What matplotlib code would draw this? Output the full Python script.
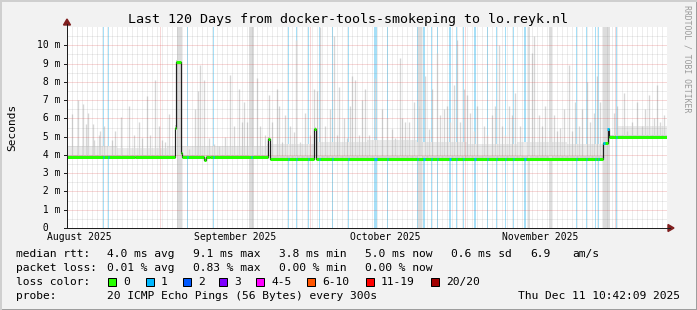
import matplotlib
matplotlib.use("Agg")
import matplotlib.pyplot as plt
from matplotlib.lines import Line2D
from matplotlib.patches import Rectangle, Polygon
import numpy as np

W, H = 697, 310
MONO = "DejaVu Sans Mono"

# --- chart data (x in days since start of the 120 day window, y in ms) ---
title = "Last 120 Days from docker-tools-smokeping to lo.reyk.nl"
month_labels = ["August 2025", "September 2025", "October 2025", "November 2025"]
month_label_day = [2.55, 33.55, 63.55, 94.55]
month_start_day = [18.55, 48.55, 79.55, 109.55]
ytick_vals = list(range(11))

# median rtt as a step function
median_day = [0, 13.5, 21.5, 21.7, 22.7, 23.0, 27.3, 27.8, 28.5, 40.2, 40.6,
              49.4, 49.7, 107.1, 108.1, 108.4]
median_ms = [3.87, 3.90, 5.5, 9.1, 4.1, 3.86, 3.72, 3.86, 3.89, 4.85, 3.80,
             5.4, 3.80, 4.65, 5.4, 4.98]

# smoke spikes (tallest ping of a time slot)
spike_day = [0.9, 2.1, 3.1, 3.8, 4.1, 5.1, 5.4, 6.3, 6.6, 7.3, 8.9, 9.6, 10.8,
             12.3, 13.3, 14.3, 14.9, 15.9, 16.6, 17.6, 18.3, 18.9, 19.6, 20.4,
             24.3, 25.6, 26.1, 26.6, 27.3, 28.3, 29.3, 30.3, 31.6, 32.6, 33.3,
             34.3, 34.9, 35.3, 36.0, 38.0, 38.6, 39.6, 40.3, 40.9, 41.9, 42.3,
             42.9, 43.6, 44.6, 45.3, 45.8, 46.6, 47.6, 48.6, 49.3, 49.9, 50.6,
             51.6, 52.6, 53.3, 53.9, 54.3, 55.3, 55.9, 56.6, 56.9, 57.6, 58.3,
             58.9, 59.6, 60.3, 61.6, 62.9, 63.9, 64.9, 65.6, 66.5, 66.9, 67.6,
             68.3, 69.3, 70.3, 71.6, 72.3, 72.9, 73.9, 74.6, 75.3, 75.9, 76.6,
             77.3, 77.9, 78.6, 79.3, 79.9, 80.6, 81.3, 81.9, 83.3, 83.9, 84.9,
             85.6, 86.3, 86.9, 87.6, 88.3, 88.9, 89.6, 90.6, 92.9, 93.3, 94.3,
             94.9, 95.6, 97.3, 97.9, 98.6, 99.3, 100.3, 100.9, 101.6, 102.3,
             103.0, 103.9, 104.6, 105.3, 106.0, 106.6, 109.3, 109.9, 111.3,
             111.9, 112.9, 113.9, 114.9, 115.6, 116.3, 117.3, 117.9, 118.6, 119.3]
spike_top = [6.25, 7.0, 6.8, 5.7, 6.3, 5.7, 4.8, 5.1, 5.3, 5.6, 4.8, 5.3, 6.1,
             6.7, 5.1, 5.8, 4.9, 7.2, 5.1, 8.1, 5.6, 4.8, 4.7, 6.25,
             4.35, 6.5, 7.5, 8.9, 8.1, 4.9, 4.6, 4.5, 5.0, 8.4, 5.6,
             7.6, 5.8, 6.9, 5.8, 8.2, 5.6, 5.1, 7.3, 5.8, 7.6, 6.7,
             4.7, 6.2, 5.6, 5.25, 10.3, 4.7, 6.3, 5.1, 7.6, 7.5, 11.0,
             5.6, 6.5, 10.5, 5.1, 7.7, 6.0, 4.9, 6.7, 8.3, 8.1, 5.1,
             7.0, 7.6, 5.1, 8.2, 6.5, 6.0, 5.4, 4.9, 9.3, 6.0, 5.8,
             5.8, 6.9, 6.7, 8.3, 5.4, 7.6, 9.6, 6.2, 6.5, 6.7, 5.8,
             7.8, 10.3, 5.8, 7.6, 7.3, 6.3, 5.3, 6.7, 5.6, 5.1, 6.2,
             6.7, 10.0, 5.6, 5.1, 6.7, 6.2, 7.4, 5.6, 9.6, 10.5, 6.2,
             5.6, 6.7, 6.2, 5.3, 5.5, 6.5, 8.9, 5.3, 6.9, 5.6,
             6.5, 8.0, 5.8, 6.3, 8.3, 6.9, 6.3, 6.7, 7.4,
             5.3, 5.8, 6.9, 5.6, 6.5, 7.3, 6.0, 7.8, 5.8, 6.2]

# slots where the smoke reaches past the top of the graph
burst_start = [22.0, 36.3, 70.1, 92.2, 96.3, 107.1]
burst_end = [23.0, 37.3, 71.0, 92.6, 97.0, 108.6]

# dense smoke just above the median, per 10 day block
haze_day = [0, 10, 20, 30, 40, 50, 60, 70, 80, 90, 100, 110]
haze_top = [4.5, 4.4, 4.5, 4.5, 4.6, 4.7, 4.8, 4.7, 4.6, 4.7, 4.6, 5.6]

# slots with 1/20 packet loss
loss_day = [7.26, 8.26, 24.1, 29.3, 36.9, 44.3, 45.8, 48.3, 50.5, 53.1, 56.3,
            61.7, 64.1, 68.6, 70.1, 71.4, 72.9, 74.1, 75.6, 76.6, 77.9, 78.6,
            79.3, 81.6, 82.6, 84.1, 85.9, 87.7, 89.3, 91.6, 101.9, 103.9,
            105.6, 106.3, 107.4, 108.2, 109.8]
loss_width = [0.2, 0.2, 0.2, 0.2, 0.25, 0.2, 0.2, 0.2, 0.2, 0.2, 0.2,
              0.6, 0.2, 0.2, 0.2, 0.4, 0.2, 0.2, 0.2, 0.4, 0.2, 0.2,
              0.2, 0.4, 0.2, 0.2, 0.2, 0.2, 0.2, 0.4, 0.2, 0.2,
              0.2, 0.2, 0.5, 0.5, 0.2]

loss_names = ["0", "1", "2", "3", "4-5", "6-10", "11-19", "20/20"]
loss_colors = ["#26ff00", "#00b8ff", "#0059ff", "#7e00ff", "#ff00ff",
               "#ff5500", "#ff0000", "#a10000"]

BACK = "#f2f2f2"
GRID = (0.56, 0.56, 0.56, 0.32)
MGRID = (0.87, 0.31, 0.31, 0.45)
ARROW = (0.5, 0.12, 0.12)
AXIS = (0.12, 0.12, 0.12)
PX = 0.72  # one pixel in points at dpi 100


def fx(px):
    return px / W


def fy(py):
    return 1 - py / H


def median_at(days):
    idx = np.searchsorted(median_day, days, side="right") - 1
    return np.array(median_ms)[np.clip(idx, 0, len(median_ms) - 1)]


fig = plt.figure(figsize=(W / 100, H / 100), dpi=100, facecolor=BACK)

# 3d-ish frame around the picture
fig.add_artist(Rectangle((0, 0), 1, 1, transform=fig.transFigure, fill=False,
                         edgecolor="#9e9e9e", lw=3 * PX))
fig.add_artist(Line2D([0, 1], [fy(0.5), fy(0.5)], color="#cfcfcf", lw=2 * PX))
fig.add_artist(Line2D([fx(0.5), fx(0.5)], [0, 1], color="#cfcfcf", lw=2 * PX))

ax = fig.add_axes([fx(67), fy(228), 600 / W, 201 / H])
ax.set_facecolor("white")
ax.set_xlim(0, 120)
ax.set_ylim(0, 11)
for s in ax.spines.values():
    s.set_visible(False)

# loss background bars
for d, w in zip(loss_day, loss_width):
    ax.axvspan(d - w / 2, d + w / 2, color="#a6dff7", lw=0, zorder=1)

# smoke
edges = sorted(set(median_day + haze_day + [120]))
for a, b in zip(edges[:-1], edges[1:]):
    lo = median_at([a])[0]
    hi = haze_top[np.searchsorted(haze_day, a, side="right") - 1]
    if hi > lo:
        ax.fill_between([a, b], lo, hi, color="#ebebeb", lw=0, zorder=2)
    ax.fill_between([a, b], lo, lo + 0.12, color="#d2d2d2", lw=0, zorder=2)
for a, b in zip(burst_start, burst_end):
    ax.axvspan(a, b, color="#dcdcdc", lw=0, zorder=2)
ax.vlines(spike_day, median_at(spike_day), spike_top, color="#d6d6d6",
          lw=1.3 * PX, zorder=2)

# grid on top of the smoke
dots = (0, (1, 1))
for d in range(1, 120):
    ax.axvline(d, color=GRID, lw=PX, ls=dots, zorder=3)
for v in np.arange(0.5, 11, 0.5):
    c = MGRID if v == int(v) else GRID
    ax.axhline(v, color=c, lw=PX, ls=dots, zorder=3)
for d in month_start_day:
    ax.axvline(d, color=MGRID, lw=PX, ls=dots, zorder=3)

# median line: thin dark line, then thick loss coloured segments
ends = median_day[1:] + [120]
ax.step(median_day + [120], median_ms + [median_ms[-1]], where="post",
        color="#202020", lw=1.2 * PX, zorder=4)
ax.hlines(median_ms, median_day, ends, color=loss_colors[0], lw=3 * PX, zorder=5)
for d, w in zip(loss_day, loss_width):
    ax.hlines(median_at([d])[0], d - w / 2, d + w / 2, color=loss_colors[1],
              lw=3 * PX, zorder=6)

# ticks and labels
ax.set_xticks([])
ax.set_yticks([])
for v in ytick_vals:
    lab = f"{v:2d} m" if v else " 0"
    ax.text(-30 / 600, v, lab, transform=ax.get_yaxis_transform(), ha="left",
            va="center", family=MONO, fontsize=7)
    ax.plot([-3 / 600, 0], [v, v], transform=ax.get_yaxis_transform(),
            color=AXIS, lw=PX, clip_on=False, zorder=7)
for d, lab in zip(month_label_day, month_labels):
    ax.text(d, -9 / 201, lab, transform=ax.get_xaxis_transform(), ha="center",
            va="center", family=MONO, fontsize=7)

# axis lines with arrows
fig.add_artist(Line2D([fx(67), fx(67)], [fy(228), fy(24)], color=AXIS, lw=PX))
fig.add_artist(Line2D([fx(64), fx(670)], [fy(228), fy(228)], color=AXIS, lw=PX))
fig.add_artist(Polygon([(fx(63.5), fy(25)), (fx(70.5), fy(25)), (fx(67), fy(19))],
                       closed=True, transform=fig.transFigure, color=ARROW))
fig.add_artist(Polygon([(fx(668), fy(224.5)), (fx(668), fy(231.5)), (fx(674), fy(228))],
                       closed=True, transform=fig.transFigure, color=ARROW))

fig.text(fx(348), fy(19), title, ha="center", va="center", family=MONO, fontsize=9.6)
fig.text(fx(12), fy(127), "Seconds", rotation=90, ha="center", va="center",
         family=MONO, fontsize=8)
fig.text(fx(687), fy(59), "RRDTOOL / TOBI OETIKER", rotation=270, ha="center",
         va="center", family=MONO, fontsize=5.9, color="#9a9a9a")

# legend block
LF = 8.1
rows = [
    (254, [(16, "median rtt:"), (107, "4.0 ms avg"), (193, "9.1 ms max"),
           (279, "3.8 ms min"), (365, "5.0 ms now"), (451, "0.6 ms sd"),
           (530, "6.9"), (572, "am/s")]),
    (268, [(16, "packet loss:"), (107, "0.01 % avg"), (193, "0.83 % max"),
           (279, "0.00 % min"), (365, "0.00 % now")]),
    (282, [(16, "loss color:")]),
    (296, [(16, "probe:"), (107, "20 ICMP Echo Pings (56 Bytes) every 300s")]),
]
for y, items in rows:
    for x, s in items:
        fig.text(fx(x), fy(y), s, ha="left", va="center", family=MONO, fontsize=LF)
fig.text(fx(680), fy(296), "Thu Dec 11 10:42:09 2025", ha="right", va="center",
         family=MONO, fontsize=LF)

box_x = [108, 146, 183, 219, 256, 307, 366, 431]
for bx, name, col in zip(box_x, loss_names, loss_colors):
    fig.add_artist(Rectangle((fx(bx), fy(286)), 8 / W, 8 / H, transform=fig.transFigure,
                             facecolor=col, edgecolor="black", lw=PX))
    fig.text(fx(bx + 15), fy(282), name, ha="left", va="center", family=MONO, fontsize=LF)

fig.savefig("out.png", dpi=100, facecolor=BACK)
